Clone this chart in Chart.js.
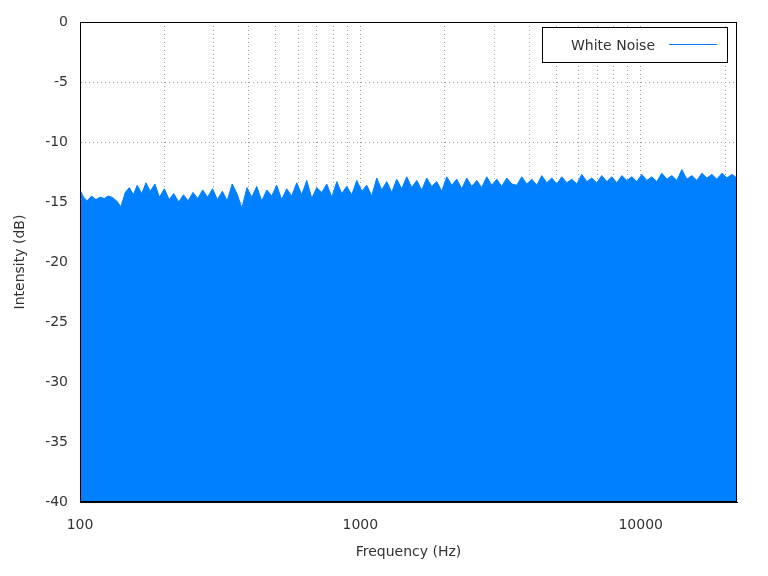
<!DOCTYPE html>
<html><head><meta charset="utf-8">
<script src="https://cdn.jsdelivr.net/npm/chart.js@4/dist/chart.umd.min.js"></script>
<style>html,body{margin:0;padding:0;background:#fff}#w{width:768px;height:576px}</style>
</head><body><div id="w"><canvas id="c"></canvas></div>
<script>
const seriesLabel = "White Noise";
const freqs = [100,103,106,110,114,118,122,126,130,135,140,145,150,155,160,166,172,178,185,192,200,208,216,225,234,243,253,263,274,285,297,309,322,335,349,363,378,394,410,427,445,464,483,503,524,546,569,593,618,644,671,699,728,759,791,824,858,894,932,971,1012,1054,1098,1144,1192,1242,1294,1348,1405,1464,1525,1589,1656,1725,1797,1873,1951,2033,2118,2207,2300,2396,2497,2601,2710,2824,2942,3066,3194,3328,3468,3613,3765,3923,4087,4259,4437,4623,4817,5019,5230,5449,5678,5916,6164,6423,6692,6973,7265,7570,7888,8218,8563,8922,9296,9686,10093,10516,10957,11417,11895,12394,12914,13455,14020,14608,15220,15859,16524,17217,17939,18691,19475,20292,21143,22050];
const intensity = [-14.0,-14.6,-14.9,-14.5,-14.8,-14.6,-14.7,-14.5,-14.6,
-14.9,-15.4,-14.2,-13.8,-14.4,-13.6,
-14.3,-13.4,-14.1,-13.5,-14.6,-13.9,
-14.8,-14.3,-15.0,-14.4,-14.9,
-14.2,-14.7,-14.0,-14.6,-13.9,-14.8,
-14.1,-14.9,-13.5,-14.3,-15.5,-13.8,
-14.6,-13.7,-14.9,-14.0,-14.5,
-13.6,-14.8,-13.9,-14.5,-13.4,
-14.4,-13.2,-14.7,-13.8,-14.2,
-13.5,-14.6,-13.3,-14.3,-13.7,
-14.4,-13.2,-14.1,-13.6,-14.5,
-13.0,-14.0,-13.3,-14.2,-13.1,
-13.9,-12.9,-13.8,-13.2,-14.0,
-13.0,-13.7,-13.3,-14.1,-12.9,
-13.6,-13.1,-13.9,-13.0,-13.7,
-13.2,-13.8,-12.9,-13.6,
-13.1,-13.7,-13.0,-13.5,
-13.6,-12.9,-13.5,-13.1,
-13.6,-12.8,-13.4,-13.0,
-13.5,-12.9,-13.4,-13.1,
-13.5,-12.7,-13.3,-13.0,
-13.4,-12.8,-13.3,-12.9,
-13.4,-12.8,-13.2,-12.9,
-13.3,-12.7,-13.2,-12.9,
-13.3,-12.6,-13.1,-12.8,
-13.2,-12.3,-13.1,-12.8,
-13.2,-12.6,-13.0,-12.7,
-13.1,-12.6,-13.0,-12.7,-13.0];
const xTickValues = [100,200,300,400,500,600,700,800,900,1000,2000,3000,4000,5000,6000,7000,8000,9000,10000,20000];
const xLabelled = [100,1000,10000];
const yTicks = [-40,-35,-30,-25,-20,-15,-10,-5,0];
const blue = '#0080ff';
const font = {family:'DejaVu Sans', size:14};
const grid = {color:'#a0a0a0', lineWidth:1, drawTicks:false};
const border = {color:'#000', dash:[1,3]};

const legendPlugin = {id:'lg', afterDraw(ch){
  const c = ch.ctx, a = ch.chartArea;
  const x1 = a.right-195, y1 = a.top+5, w = 185, h = 35;
  c.save();
  c.fillStyle='#fff'; c.fillRect(x1,y1,w,h);
  c.strokeStyle='#000'; c.lineWidth=1; c.strokeRect(x1+0.5,y1+0.5,w,h);
  c.fillStyle='#333'; c.font='14px "DejaVu Sans"'; c.textAlign='right'; c.textBaseline='middle';
  c.fillText(ch.data.datasets[0].label, x1+113, y1+h/2+2);
  c.strokeStyle=blue; c.beginPath(); c.moveTo(x1+127,y1+h/2); c.lineTo(x1+175,y1+h/2); c.stroke();
  c.restore();
}};

new Chart(document.getElementById('c'), {
  type:'line',
  data:{datasets:[{label:seriesLabel, data:freqs.map((f,i)=>({x:f,y:intensity[i]})),
    borderColor:blue, backgroundColor:blue, borderWidth:1, pointRadius:0, tension:0, fill:'start'}]},
  options:{responsive:true, maintainAspectRatio:false, animation:false,
    layout:{padding:{top:22,right:31,left:12,bottom:11}},
    plugins:{legend:{display:false}, tooltip:{enabled:false}},
    scales:{
      x:{type:'logarithmic', min:100, max:22050,
        afterBuildTicks(s){s.ticks = xTickValues.map(v=>({value:v}));},
        afterFit(s){s.height=63;},
        ticks:{autoSkip:false, maxRotation:0, color:'#333', font, padding:15,
          callback(v){return xLabelled.includes(v)? String(v) : '';}},
        grid, border,
        title:{display:true, text:'Frequency (Hz)', color:'#333', font, padding:{top:0}}},
      y:{min:-40, max:0,
        afterBuildTicks(s){s.ticks = yTicks.map(v=>({value:v}));},
        afterFit(s){s.width=68;},
        ticks:{color:'#333', font, padding:12},
        grid, border,
        title:{display:true, text:'Intensity (dB)', color:'#333', font, padding:0}}
    }},
  plugins:[legendPlugin, {id:'frame', afterDraw(ch){const c=ch.ctx,a=ch.chartArea;c.save();c.strokeStyle='#000';c.lineWidth=1;c.strokeRect(a.left+0.5,a.top+0.5,a.width-1,a.height-1);c.restore();}}]
});
</script></body></html>
